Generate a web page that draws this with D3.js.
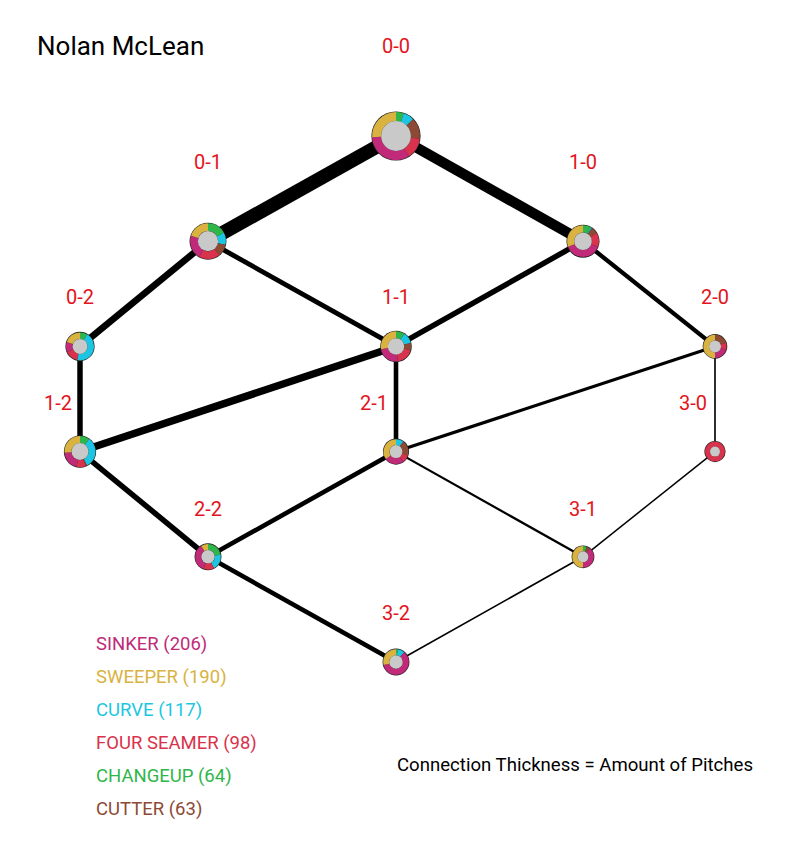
<!DOCTYPE html>
<html><head><meta charset="utf-8">
<script src="https://cdn.jsdelivr.net/npm/d3@7"></script>
<style>body{margin:0;background:#fff;}svg{display:block;font-family:Roboto,sans-serif;}</style>
</head><body><svg id="c" width="804" height="855"></svg>
<script>
// ---- data ----
const pitchTypes = ["CHANGEUP","CURVE","CUTTER","FOUR SEAMER","SINKER","SWEEPER"];
const pitchColors = ["#2fb64a","#1cc6e2","#8c4a34","#d9324c","#c02a78","#d9b240"];
const legendOrder = ["SINKER","SWEEPER","CURVE","FOUR SEAMER","CHANGEUP","CUTTER"];
const legendTotals = [206,190,117,98,64,63];
const counts = ["0-0","0-1","1-0","0-2","1-1","2-0","1-2","2-1","3-0","2-2","3-1","3-2"];
// pitches per count, in pitchTypes order
const mix00 = [10,14,27,27,63,49];
const mix01 = [19,12,12,21,24,22];
const mix10 = [7,1,6,12,33,26];
const mix02 = [5,27,0,9,7,12];
const mix11 = [7,9,6,14,18,21];
const mix20 = [0,0,6,3,6,15];
const mix12 = [8,26,1,8,16,21];
const mix21 = [0,4,8,4,10,14];
const mix30 = [0,0,0,8,0,0];
const mix22 = [10,9,0,6,16,4];
const mix31 = [1,0,1,0,7,9];
const mix32 = [1,4,0,0,27,13];
const mixes = [mix00,mix01,mix10,mix02,mix11,mix20,mix12,mix21,mix30,mix22,mix31,mix32];
const transFrom = ["0-0","0-0","0-1","0-1","1-0","1-0","0-2","1-1","1-1","2-0","2-0","1-2","2-1","2-1","3-0","2-2","3-1"];
const transTo   = ["0-1","1-0","0-2","1-1","1-1","2-0","1-2","1-2","2-1","2-1","3-0","2-2","2-2","3-1","3-1","3-2","3-2"];
const transVals = [90,66,40,28,32,24,32,45,26,16,6,32,26,10,5,26,6];

// ---- layout ----
const layoutCol = {"0-0":2,"0-1":1,"1-0":3,"0-2":0,"1-1":2,"2-0":4,"1-2":0,"2-1":2,"3-0":4,"2-2":1,"3-1":3,"3-2":2};
const layoutRow = {"0-0":0,"0-1":1,"1-0":1,"0-2":2,"1-1":2,"2-0":2,"1-2":3,"2-1":3,"3-0":3,"2-2":4,"3-1":4,"3-2":5};
const labelDy = [-90,-79,-49,-49,-48,-49];
const labelDx = [0,0,0,-22,0,0];

const svg = d3.select("#c");
const x = d3.scaleLinear().domain([0,1,2,3,4]).range([80,208,396,583,715]);
const y = d3.scaleLinear().domain([0,5]).range([136,662]);
const color = d3.scaleOrdinal().domain(pitchTypes).range(pitchColors);

const nodes = counts.map((c,i)=>({id:c, mix:mixes[i], total:d3.sum(mixes[i]), cx:x(layoutCol[c]), cy:y(layoutRow[c]), row:layoutRow[c]}));
const byId = Object.fromEntries(nodes.map(n=>[n.id,n]));
const r = d3.scaleLinear().domain(d3.extent(nodes,d=>d.total)).range([10,24]);
const w = d3.scaleLinear().domain(d3.extent(transVals)).range([1.5,14]);

const links = transFrom.map((f,i)=>({s:byId[f], t:byId[transTo[i]], v:transVals[i]}));
svg.append("g").selectAll("line").data(links).join("line")
  .attr("x1",d=>d.s.cx).attr("y1",d=>d.s.cy).attr("x2",d=>d.t.cx).attr("y2",d=>d.t.cy)
  .attr("stroke","#000").attr("stroke-width",d=>w(d.v));

const pie = d3.pie().sort(null).value(d=>d.v);
const ng = svg.append("g").selectAll("g").data(nodes).join("g")
  .attr("transform",d=>`translate(${d.cx},${d.cy})`);
ng.append("circle").attr("r",d=>r(d.total)+0.6).attr("fill","#222");
ng.each(function(d){
  const R = r(d.total);
  const inner = R*(0.5 + 0.12*(R-10)/14);
  const arc = d3.arc().innerRadius(inner).outerRadius(R);
  const data = pie(pitchTypes.map((p,i)=>({p, v:d.mix[i]})));
  d3.select(this).selectAll("path").data(data).join("path")
    .attr("d",arc).attr("fill",a=>color(a.data.p));
  d3.select(this).append("circle").attr("r",inner).attr("fill","#c9c9c9");
});

svg.append("g").selectAll("text").data(nodes).join("text")
  .attr("x",d=>d.cx+labelDx[d.row]).attr("y",d=>d.cy+labelDy[d.row])
  .attr("text-anchor","middle").attr("dominant-baseline","central")
  .attr("fill","#e3141c").attr("font-size",20).text(d=>d.id);

svg.append("text").attr("x",37).attr("y",46).attr("dominant-baseline","central")
  .attr("font-size",26).attr("fill","#000").text("Nolan McLean");

const ly = d3.scaleLinear().domain([0,5]).range([644,809]);
svg.append("g").selectAll("text").data(legendOrder).join("text")
  .attr("x",96).attr("y",(d,i)=>ly(i)).attr("dominant-baseline","central")
  .attr("font-size",18.5).attr("fill",d=>color(d))
  .text((d,i)=>`${d} (${legendTotals[i]})`);

svg.append("text").attr("x",397).attr("y",765).attr("dominant-baseline","central")
  .attr("font-size",18.6).attr("fill","#000").text("Connection Thickness = Amount of Pitches");
</script></body></html>
